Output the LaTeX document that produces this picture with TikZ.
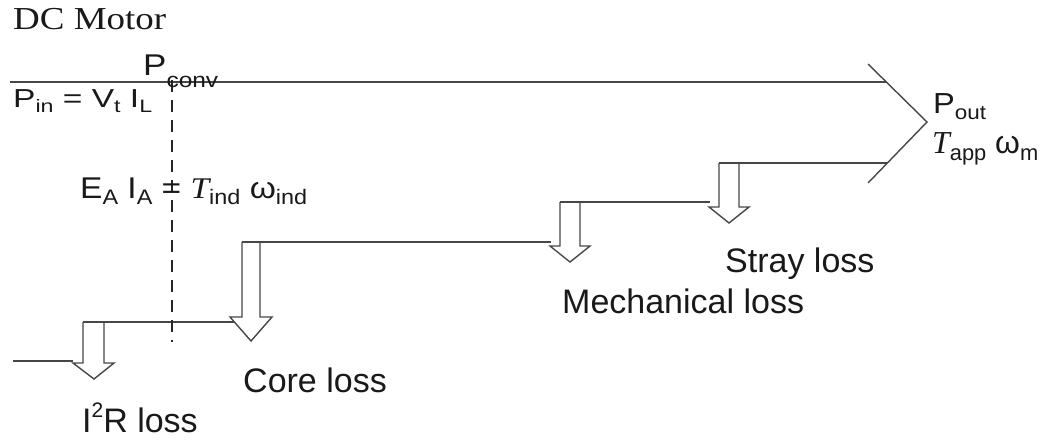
\documentclass[tikz,border=0pt]{standalone}
\usepackage{fontspec}
\usepackage{graphicx}
\setmainfont{Liberation Sans}
\newfontfamily\serifface{Liberation Serif}
% lowered subscript in a given size
\newcommand\lo[2]{\raisebox{-0.22em}{\fontsize{#1}{#1}\selectfont #2}}
% squeeze or stretch a label to a given width, keeping its height
\newcommand\fitw[2]{\resizebox{#1}{\height}{#2}}
\newcommand\Tit{{\serifface\itshape T}}

\tikzset{
  flow/.style={line width=1.4pt, draw=black!72, line join=miter},
  divider/.style={line width=1.5pt, draw=black!85, dash pattern=on 12pt off 8pt},
  lbl/.style={inner sep=0pt, anchor=base west, text=black!90},
}

\begin{document}
\begin{tikzpicture}[x=1pt, y=-1pt]
\useasboundingbox (0,0) rectangle (1046,442);

% ---- outline of the power flow ----
% input power line along the top
\coordinate (inTop) at (10,82);
\coordinate (outTop) at (886,82);
\draw[flow] (inTop) -- (outTop);

% output chevron
\coordinate (chevA) at (868,64);
\coordinate (chevTip) at (927,122);
\coordinate (chevB) at (868,183);
\draw[flow] (chevA) -- (chevTip) -- (chevB);

% bottom edge: a staircase of loss arrows
\draw[flow] (13,361) -- (73,361);
% I^2R loss
\draw[flow] (83,322) -- (83,363) -- (73,363) -- (94,379) -- (114,363) -- (104,363) -- (104,322);
\draw[flow] (83,322) -- (234,322);
% core loss
\draw[flow] (242,242) -- (242,317) -- (230,317) -- (251,341) -- (272,317) -- (260,317) -- (260,242);
\draw[flow] (242,242) -- (551,242);
% mechanical loss
\draw[flow] (560,202) -- (560,246) -- (550,246) -- (570,262) -- (590,246) -- (580,246) -- (580,202);
\draw[flow] (560,202) -- (710,202);
% stray loss
\draw[flow] (719,163) -- (719,207) -- (709,207) -- (729,223) -- (749,207) -- (739,207) -- (739,163);
\draw[flow] (719,163) -- (887,163);

% conversion point
\coordinate (convTop) at (172,80);
\coordinate (convBot) at (172,342);
\draw[divider] (convTop) -- (convBot);

% ---- labels ----
\node[lbl] (title) at (13,29) {\fitw{153pt}{\fontsize{32}{32}\serifface DC Motor}};
\node[lbl] (pconv) at (143,75) {\fitw{75pt}{\fontsize{30}{30}\selectfont P\raisebox{-0.4em}{\fontsize{21}{21}\selectfont conv}}};
\node[lbl] (pin) at (13,107) {\fitw{139pt}{\fontsize{26}{26}\selectfont P\lo{18}{in} = V\lo{18}{t} I\lo{18}{L}}};
\node[lbl] (eaia) at (80,198) {\fitw{227pt}{\fontsize{30}{30}\selectfont E\lo{21}{A} I\lo{21}{A} = \Tit\lo{21}{ind} ω\lo{21}{ind}}};
\node[lbl] (pout) at (933,113) {\fitw{53pt}{\fontsize{29}{29}\selectfont P\lo{20}{out}}};
\node[lbl] (tapp) at (932,153) {\fitw{106pt}{\fontsize{32}{32}\selectfont \Tit\lo{22}{app} ω\lo{22}{m}}};
\node[lbl] (stray) at (725,272) {\fontsize{34}{34}\selectfont Stray loss};
\node[lbl] (mech) at (562,313) {\fontsize{34}{34}\selectfont Mechanical loss};
\node[lbl] (core) at (243,392) {\fontsize{34}{34}\selectfont Core loss};
\node[lbl] (cu) at (82,432) {\fontsize{34}{34}\selectfont I\raisebox{0.42em}{\fontsize{21}{21}\selectfont 2}R loss};
\end{tikzpicture}
\end{document}
